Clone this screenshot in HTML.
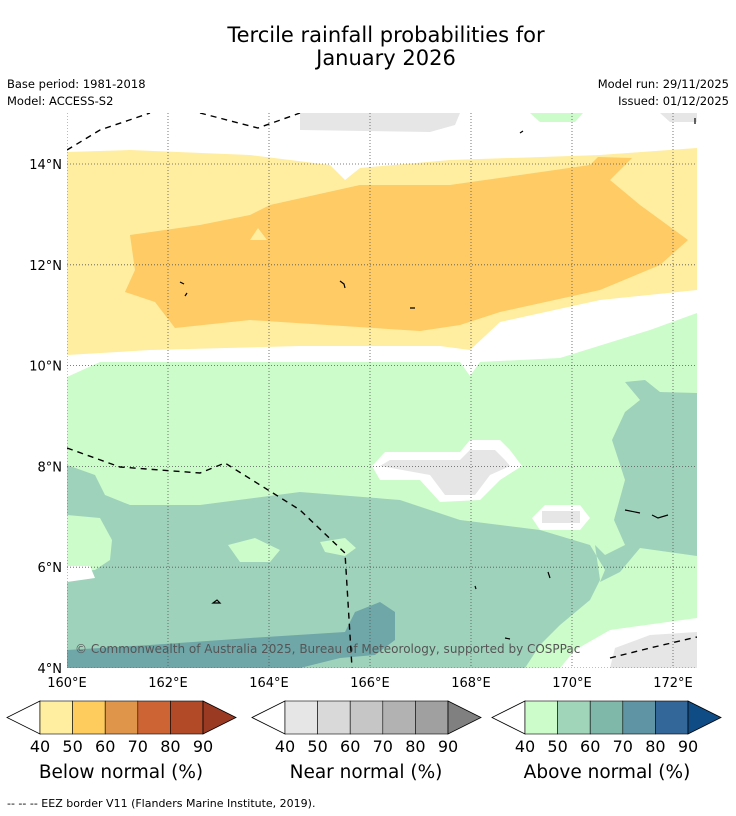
<!DOCTYPE html>
<html><head><meta charset="utf-8"><style>
body{margin:0;background:#fff;font-family:"Liberation Sans","DejaVu Sans",sans-serif}
svg{display:block}
</style></head><body>
<svg id="s" width="736" height="816" viewBox="0 0 736 816" xmlns="http://www.w3.org/2000/svg" font-family="DejaVu Sans, Liberation Sans, sans-serif">
<text x="386" y="42" font-size="21" text-anchor="middle">Tercile rainfall probabilities for</text>
<text x="386" y="65" font-size="21" text-anchor="middle">January 2026</text>
<text x="7" y="88" font-size="11.5">Base period: 1981-2018</text>
<text x="7" y="105" font-size="11.5">Model: ACCESS-S2</text>
<text x="729" y="88" font-size="11.5" text-anchor="end">Model run: 29/11/2025</text>
<text x="729" y="105" font-size="11.5" text-anchor="end">Issued: 01/12/2025</text>
<defs><clipPath id="mc"><rect x="67" y="113" width="630" height="555"/></clipPath></defs>
<g clip-path="url(#mc)">
<rect x="67" y="113" width="630" height="555" fill="#fff"/>
<polygon fill="#ffeda0" points="67,152 130,150 250,155 330,165 345,180 360,168 450,160 600,155 697,148 697,290 600,300 500,322 470,350 440,346 300,346 150,350 67,355"/>
<polygon fill="#fecb65" points="130,235 200,225 250,215 270,205 360,185 450,185 590,165 598,157 632,158 610,180 640,205 688,240 660,265 600,290 500,312 460,325 420,331 250,320 175,328 155,302 125,292 135,270"/>
<polygon fill="#ffeda0" points="250,240 258,228 267,240"/>
<polygon fill="#ccfcc9" points="67,377 100,362 460,362 470,376 480,362 560,358 650,330 697,313 697,668 67,668"/>
<polygon fill="#9ed2bb" points="67,465 95,475 105,495 130,505 200,505 300,492 400,500 460,520 540,530 590,545 605,570 600,582 620,572 640,548 697,556 697,393 660,392 645,380 625,382 640,400 625,412 612,440 625,480 614,520 625,545 605,555 595,545 600,580 590,600 560,625 540,645 525,668 67,668"/>
<polygon fill="#ccfcc9" points="67,515 100,518 112,540 110,560 95,570 67,572"/>
<polygon fill="#fff" points="67,566 90,566 95,578 67,582"/>
<polygon fill="#ccfcc9" points="228,545 255,538 280,550 270,562 240,562"/>
<polygon fill="#ccfcc9" points="320,542 345,538 356,548 345,556 325,552"/>
<polygon fill="#6fa6a8" points="67,650 150,645 250,638 345,632 355,612 380,602 395,612 395,640 375,655 340,658 300,668 67,668"/>
<polygon fill="#fff" points="560,668 575,650 610,630 697,618 697,668"/>
<polygon fill="#e6e6e6" points="610,668 615,648 650,635 697,632 697,668"/>
<polygon fill="#fff" points="372,466 385,452 460,452 470,440 500,440 510,450 522,466 500,480 480,500 440,502 420,480 380,480"/>
<polygon fill="#e6e6e6" points="380,466 390,460 460,460 470,450 495,450 505,460 510,466 490,475 475,495 445,495 430,475"/>
<polygon fill="#fff" points="532,518 545,505 580,505 590,518 580,530 540,530"/>
<rect x="542" y="511" width="38" height="12" fill="#e6e6e6"/>
<polygon fill="#e6e6e6" points="300,113 460,113 455,125 430,132 300,130"/>
<polygon fill="#ccfcc9" points="530,113 583,113 575,122 540,122"/>
<polygon fill="#e6e6e6" points="660,113 697,113 697,122 670,122"/>
<text x="75" y="653" font-size="12" fill="#555">© Commonwealth of Australia 2025, Bureau of Meteorology, supported by COSPPac</text>
<g id="grid" stroke="#555" stroke-width="0.8" stroke-dasharray="1,2" fill="none"></g>
<g fill="none" stroke="#000" stroke-width="1.4" stroke-dasharray="6,5">
<polyline points="67,150 100,130 150,113"/>
<polyline points="200,113 258,128 300,113"/>
<polyline points="67,448 120,467 200,473 225,463 300,510 345,553 352,668"/>
<polyline points="610,658 650,648 697,637"/>
</g>
<g fill="none" stroke="#000" stroke-width="1.2">
<path d="M180,282 l4,2 M185,296 l2,-3 M340,281 l4,3 l1,4 M410,308 l5,0 M625,510 l15,3 M652,515 l6,3 l10,-3 M520,133 l3,-2 M695,118 l0,6 M548,572 l2,6 M213,603 l4,-3 l3,3 Z M475,586 l1,3 M505,638 l5,1"/>
</g>
</g>
<g id="ticks" font-size="13"></g>
<g id="cbars"></g>
<text x="121" y="778" font-size="18.5" text-anchor="middle">Below normal (%)</text>
<text x="366" y="778" font-size="18.5" text-anchor="middle">Near normal (%)</text>
<text x="607" y="778" font-size="18.5" text-anchor="middle">Above normal (%)</text>
<text x="7" y="807" font-size="11">-- -- -- EEZ border V11 (Flanders Marine Institute, 2019).</text>
</svg>
<script>
const lonTicks=[160,162,164,166,168,170,172];
const latTicks=[4,6,8,10,12,14];
const levels=[40,50,60,70,80,90];
const belowColors=["#ffeda0","#fecc5c","#e0964a","#cc6434","#b24a28"];
const nearColors=["#e6e6e6","#d9d9d9","#c6c6c6","#b2b2b2","#a0a0a0"];
const aboveColors=["#ccfcc9","#a0d5b9","#7fb8a8","#5e94a4","#336699"];
const NS="http://www.w3.org/2000/svg";
const xOf=l=>67+(l-160)*50.5, yOf=l=>668-(l-4)*50.4;
const grid=document.getElementById('grid'),ticks=document.getElementById('ticks');
function mk(t,a,p){const e=document.createElementNS(NS,t);for(const k in a)e.setAttribute(k,a[k]);p.appendChild(e);return e;}
lonTicks.forEach(l=>{const x=xOf(l);
 const g=mk('line',{x1:x,x2:x,y1:113,y2:668},grid);
 
 
 const t=mk('text',{x:x,y:687,'text-anchor':'middle'},ticks);t.textContent=l+'°E';
 
 });
latTicks.forEach(l=>{const y=yOf(l);
 const g=mk('line',{x1:67,x2:697,y1:y,y2:y},grid);
 
 
 const t=mk('text',{x:62,y:y+5,'text-anchor':'end'},ticks);t.textContent=l+'°N';
 
 });
const cb=document.getElementById('cbars');
function bar(x0,cols,arrow,name){const w=32.6,y=701,h=33;
 const g=mk('g',{},cb);
 
 
 mk('polygon',{points:`${x0},${y} ${x0-33},${y+h/2} ${x0},${y+h}`,fill:'#fff',stroke:'#000','stroke-width':0.8},g);
 cols.forEach((c,i)=>{mk('rect',{x:x0+i*w,y:y,width:w,height:h,fill:c,stroke:'#000','stroke-width':0.6},g);});
 const xe=x0+cols.length*w;
 mk('polygon',{points:`${xe},${y} ${xe+33},${y+h/2} ${xe},${y+h}`,fill:arrow,stroke:'#000','stroke-width':0.8},g);
 levels.forEach((v,i)=>{const t=mk('text',{x:x0+i*w,y:752,'font-size':16,'text-anchor':'middle'},g);t.textContent=v;});}
bar(40,belowColors,'#9a3a22','below-colorbar');
bar(285,nearColors,'#808080','near-colorbar');
bar(525,aboveColors,'#0f4c85','above-colorbar');
</script>
</body></html>
